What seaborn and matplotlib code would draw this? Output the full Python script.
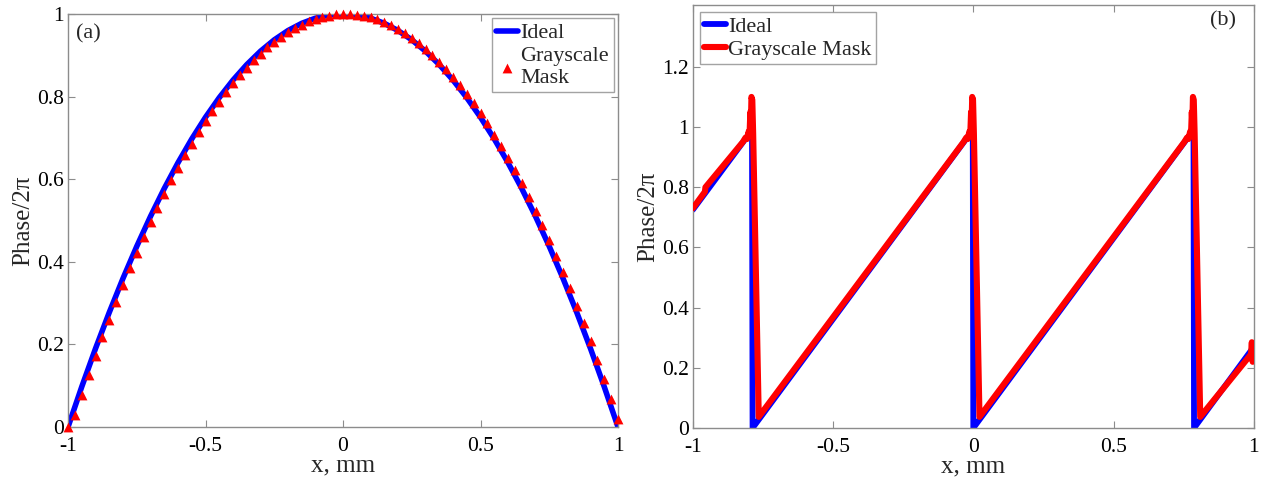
import numpy as np
import pandas as pd
import matplotlib
matplotlib.use("Agg")
import matplotlib.pyplot as plt
import seaborn as sns

# ---------------- data ----------------
# (a) lens phase profile: ideal curve and grayscale-mask samples
lens_x = np.linspace(-1.0, 1.0, 41)
ideal_phase_a = [0.0, 0.0975, 0.19, 0.2775, 0.36, 0.4375, 0.51, 0.5775, 0.64, 0.6975,
                 0.75, 0.7975, 0.84, 0.8775, 0.91, 0.9375, 0.96, 0.9775, 0.99, 0.9975,
                 1.0,
                 0.9975, 0.99, 0.9775, 0.96, 0.9375, 0.91, 0.8775, 0.84, 0.7975, 0.75,
                 0.6975, 0.64, 0.5775, 0.51, 0.4375, 0.36, 0.2775, 0.19, 0.0975, 0.0]

mask_x = np.linspace(-1.0, 1.0, 81)
mask_phase_a = [0.0, 0.030, 0.078, 0.126, 0.172, 0.217, 0.260, 0.303, 0.344, 0.384,
                0.422, 0.460, 0.496, 0.531, 0.564, 0.597, 0.628, 0.658, 0.686, 0.714,
                0.740, 0.765, 0.788, 0.811, 0.832, 0.852, 0.870, 0.888, 0.904, 0.919,
                0.932, 0.945, 0.956, 0.966, 0.974, 0.982, 0.988, 0.993, 0.996, 0.999,
                1.000, 1.000, 0.998, 0.996, 0.992, 0.987, 0.980, 0.973, 0.964, 0.954,
                0.942, 0.930, 0.916, 0.901, 0.884, 0.867, 0.848, 0.828, 0.806, 0.784,
                0.760, 0.735, 0.708, 0.681, 0.652, 0.622, 0.590, 0.558, 0.524, 0.489,
                0.452, 0.415, 0.376, 0.336, 0.294, 0.252, 0.208, 0.163, 0.116, 0.069,
                0.020]

# (b) blazed (sawtooth) phase profile
ideal_x_b = [-1.0, -0.789, -0.787, -0.002, 0.0, 0.785, 0.787, 1.0]
ideal_phase_b = [0.725, 0.99, 0.0, 0.99, 0.0, 0.99, 0.0, 0.27]

mask_x_b = [-1.0, -0.957, -0.955,
            -0.822, -0.812, -0.807, -0.801, -0.798, -0.795, -0.793, -0.791, -0.788, -0.785, -0.765,
            -0.035, -0.025, -0.020, -0.014, -0.011, -0.008, -0.006, -0.004, -0.001, 0.002, 0.022,
            0.752, 0.762, 0.767, 0.773, 0.776, 0.779, 0.781, 0.783, 0.786, 0.789, 0.809,
            0.990, 0.993, 0.996, 1.0]
mask_phase_b = [0.73, 0.785, 0.80,
                0.95, 0.965, 0.96, 0.985, 0.97, 1.05, 1.01, 1.10, 1.09, 0.98, 0.037,
                0.95, 0.965, 0.96, 0.985, 0.97, 1.05, 1.01, 1.10, 1.09, 0.98, 0.037,
                0.95, 0.965, 0.96, 0.985, 0.97, 1.05, 1.01, 1.10, 1.09, 0.98, 0.037,
                0.245, 0.285, 0.22, 0.27]

x_ticks = [-1, -0.5, 0, 0.5, 1]
x_tick_labels = ["-1", "-0.5", "0", "0.5", "1"]
y_ticks_a = [0, 0.2, 0.4, 0.6, 0.8, 1]
y_tick_labels_a = ["0", "0.2", "0.4", "0.6", "0.8", "1"]
y_ticks_b = [0, 0.2, 0.4, 0.6, 0.8, 1, 1.2]
y_tick_labels_b = ["0", "0.2", "0.4", "0.6", "0.8", "1", "1.2"]

# ---------------- style ----------------
sns.set_style("white")
plt.rcParams["font.family"] = ["Liberation Serif", "DejaVu Serif"]
plt.rcParams["axes.unicode_minus"] = False

BLUE = (0.0, 0.0, 1.0)
RED = (1.0, 0.0, 0.0)
SPINE = (0.55, 0.55, 0.55)
TICK_FS = 15.5
LABEL_FS = 18
LEG_FS = 16

fig = plt.figure(figsize=(12.62, 4.8), dpi=100)
ax1 = fig.add_axes([0.0539, 0.1104, 0.4358, 0.8604])
ax2 = fig.add_axes([0.549, 0.1083, 0.4445, 0.881])

# ---------------- panel (a) ----------------
sns.lineplot(x=lens_x, y=ideal_phase_a, ax=ax1, color=BLUE, linewidth=4.0,
             estimator=None, sort=False, label="Ideal", zorder=2)
sns.scatterplot(x=mask_x, y=mask_phase_a, ax=ax1, marker="^", s=50, color=RED,
                edgecolor=RED, linewidth=0, label="Grayscale\nMask", zorder=3,
                clip_on=False)
ax1.set_xlim(-1, 1)
ax1.set_ylim(0, 1)
ax1.set_yticks(y_ticks_a)
ax1.set_yticklabels(y_tick_labels_a)
ax1.text(0.015, 0.975, "(a)", transform=ax1.transAxes, ha="left", va="top",
         fontsize=LEG_FS)

# ---------------- panel (b) ----------------
sns.lineplot(x=ideal_x_b, y=ideal_phase_b, ax=ax2, color=BLUE, linewidth=4.2,
             estimator=None, sort=False, label="Ideal", zorder=2)
sns.lineplot(x=mask_x_b, y=mask_phase_b, ax=ax2, color=RED, linewidth=4.4,
             estimator=None, sort=False, label="Grayscale Mask", zorder=3)
ax2.set_xlim(-1, 1)
ax2.set_ylim(0, 1.405)
ax2.set_yticks(y_ticks_b)
ax2.set_yticklabels(y_tick_labels_b)
ax2.text(0.968, 0.985, "(b)", transform=ax2.transAxes, ha="right", va="top",
         fontsize=LEG_FS)

for ax in (ax1, ax2):
    ax.set_xticks(x_ticks)
    ax.set_xticklabels(x_tick_labels)
    ax.set_xlabel("x, mm", fontsize=LABEL_FS, labelpad=-1)
    ax.set_ylabel("Phase/2\u03c0", fontsize=LABEL_FS, labelpad=2)
    for sp in ax.spines.values():
        sp.set_visible(True)
        sp.set_color(SPINE)
        sp.set_linewidth(1.0)
    ax.tick_params(direction="in", length=5, width=0.8, color=SPINE,
                   top=True, right=True, bottom=True, left=True,
                   labelsize=TICK_FS, labelcolor="black")
    ax.tick_params(axis="x", pad=7)
    ax.tick_params(axis="y", pad=3)

leg1 = ax1.legend(loc="upper right", fontsize=LEG_FS, frameon=True, fancybox=False,
                  handlelength=1.0, handletextpad=0.1, borderpad=0.2,
                  borderaxespad=0.2, labelspacing=0.15, markerscale=1.0)
leg1.get_frame().set_edgecolor(SPINE)
leg1.get_frame().set_linewidth(1.0)

leg2 = ax2.legend(loc="upper left", fontsize=LEG_FS, frameon=True, fancybox=False,
                  handlelength=1.0, handletextpad=0.1, borderpad=0.2,
                  borderaxespad=0.3, labelspacing=0.1)
leg2.get_frame().set_edgecolor(SPINE)
leg2.get_frame().set_linewidth(1.0)

fig.savefig("out.png", dpi=100, facecolor="white")
